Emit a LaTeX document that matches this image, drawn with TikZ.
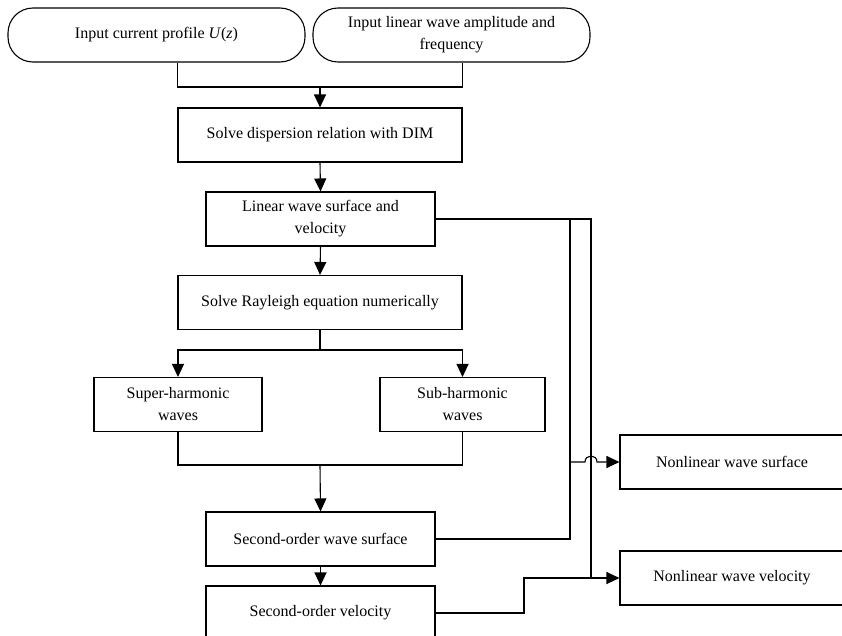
\documentclass[tikz,border=0pt]{standalone}
\usepackage{fontspec}
\setmainfont{Liberation Serif}
\usepackage{tikz}
\usetikzlibrary{shapes,arrows.meta}

\tikzset{
  startbox/.style={rectangle, draw, rounded corners=25pt, minimum height=54pt, inner sep=0pt, align=center},
  procbox/.style={rectangle, draw, minimum height=54pt, inner sep=0pt, align=center},
  flow/.style={-{Triangle[length=13pt,width=12pt]}},
}

\begin{document}
\begin{tikzpicture}[x=1pt, y=-1pt, line width=1.1pt, font=\fontsize{16}{22}\selectfont]
    \useasboundingbox (0,0) rectangle (842,635);
    \clip (0,0) rectangle (842,635);

    \node (cur)[startbox, minimum width=297pt] at (156.5,35) {Input current profile \textit{U}(\textit{z})};
    \node (amp)[startbox, minimum width=277pt] at (451.5,35) {Input linear wave amplitude and\\frequency};

    \node (dim)[procbox, minimum width=284pt] at (320,135) {Solve dispersion relation with DIM};
    \node (lin)[procbox, minimum width=229pt] at (320.5,219) {Linear wave surface and\\velocity};
    \node (ray)[procbox, minimum width=284pt] at (320,302.5) {Solve Rayleigh equation numerically};

    \node (sup)[procbox, minimum width=168pt] at (178,404.5) {Super-harmonic\\waves};
    \node (sub)[procbox, minimum width=165pt] at (462.5,404.5) {Sub-harmonic\\waves};

    \node (sos)[procbox, minimum width=229pt] at (320.5,539) {Second-order wave surface};
    \node (sov)[procbox, minimum width=229pt] at (320.5,613) {Second-order velocity};

    \node (nls)[procbox, minimum width=224pt] at (732,462) {Nonlinear wave surface};
    \node (nlv)[procbox, minimum width=224pt] at (732,578) {Nonlinear wave velocity};

    % junctions
    \coordinate (m1) at (320,87);
    \coordinate (s1) at (320,350);
    \coordinate (m2) at (320,465);
    \coordinate (tap) at (570,219);
    \coordinate (bus) at (591,578);
    \coordinate (kink) at (524,578);

    \draw (cur.south -| dim.west) |- (m1) -| (amp.south -| dim.east);
    \draw[flow] (m1) -- (dim.north);
    \draw[flow] (dim.south) -- (lin.north);
    \draw[flow] (lin.south) -- (ray.north);

    \draw (ray.south) -- (s1);
    \draw[flow] (s1) -| (sup.north);
    \draw[flow] (s1) -| (sub.north);

    \draw (sup.south) |- (m2) -| (sub.south);
    \draw[flow] (m2) -- (sos.north);
    \draw[flow] (sos.south) -- (sov.north);

    % right side
    \draw[flow] (lin.east) -| (bus) -- (nlv.west);
    \draw (sos.east) -| (tap);
    \draw (sov.east) -| (kink) -- (bus);
    \draw[flow] (tap |- nls.west) -- (585,462) .. controls (585,454) and (597,454) .. (597,462) -- (nls.west);
\end{tikzpicture}
\end{document}
